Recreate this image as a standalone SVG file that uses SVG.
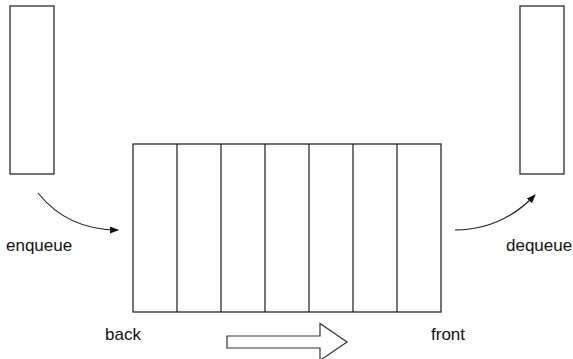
<svg xmlns="http://www.w3.org/2000/svg" width="573" height="359" viewBox="0 0 573 359">
<style>
.box{fill:#fff;stroke:#1a1a1a;stroke-width:1.2}
.cell{stroke:#1a1a1a;stroke-width:1.2}
.lbl{font-family:"Liberation Sans",Arial,sans-serif;font-size:17px;fill:#111}
.conn{fill:none;stroke:#1a1a1a;stroke-width:1.1}
.hollow{fill:#fff;stroke:#333;stroke-width:1.2}
</style>
<defs>
<marker id="ah" viewBox="0 0 10 10" refX="9" refY="5" markerWidth="9" markerHeight="9" markerUnits="userSpaceOnUse" orient="auto">
<path d="M0,1 L10,5 L0,9 Z" fill="#111"/>
</marker>
</defs>
<rect width="573" height="359" fill="#fff"/>
<g id="input-stack">
<rect class="box" x="10" y="6" width="44" height="168"/>
</g>
<g id="output-stack">
<rect class="box" x="520" y="6" width="44" height="168"/>
</g>
<g id="queue">
<rect class="box" x="133" y="144" width="308" height="168"/>
<line class="cell" x1="177" y1="144" x2="177" y2="312"/>
<line class="cell" x1="221" y1="144" x2="221" y2="312"/>
<line class="cell" x1="265" y1="144" x2="265" y2="312"/>
<line class="cell" x1="309" y1="144" x2="309" y2="312"/>
<line class="cell" x1="353" y1="144" x2="353" y2="312"/>
<line class="cell" x1="397" y1="144" x2="397" y2="312"/>
</g>
<g id="labels">
<text class="lbl" x="6" y="251">enqueue</text>
<text class="lbl" x="506" y="251">dequeue</text>
<text class="lbl" x="105" y="340">back</text>
<text class="lbl" x="431" y="340">front</text>
</g>
<g id="direction-arrow">
<path class="hollow" d="M227,336 L320,336 L320,323.5 L347,342 L320,360.5 L320,348 L227,348 Z"/>
</g>
<g id="connectors">
<path class="conn" d="M38,193 C58,218 85,230 118,230" marker-end="url(#ah)"/>
<path class="conn" d="M455,230 C490,230 515,216 535,195" marker-end="url(#ah)"/>
</g>
</svg>
